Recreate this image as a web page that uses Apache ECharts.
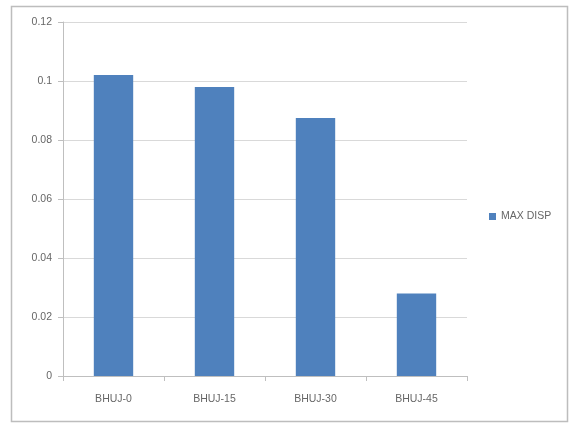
<!DOCTYPE html>
<html>
<head>
    <meta charset="utf-8">
    <title>MAX DISP</title>
    <script src="https://cdn.jsdelivr.net/npm/echarts@6/dist/echarts.min.js"></script>
</head>
<body style="margin:0;background:#fff;">
    <div id="main" style="width:569px;height:424px;"></div>
    <script type="text/javascript">
var categories = ['BHUJ-0', 'BHUJ-15', 'BHUJ-30', 'BHUJ-45'];
var maxDisp = [0.102, 0.098, 0.0875, 0.028];
var seriesName = 'MAX DISP';

var chart = echarts.init(document.getElementById('main'));
var font = 'Liberation Sans, Arial, sans-serif';

chart.setOption({
    animation: false,
    backgroundColor: '#fff',
    graphic: [{
        type: 'rect',
        shape: { x: 11.5, y: 6.5, width: 556, height: 415 },
        style: { fill: 'none', stroke: '#bdbdbd', lineWidth: 1.5 },
        silent: true
    }],
    grid: { left: 63, top: 22, right: 102, bottom: 48 },
    legend: {
        data: [seriesName],
        orient: 'vertical',
        left: 484,
        top: 206,
        itemWidth: 7,
        itemHeight: 7,
        itemGap: 4,
        icon: 'rect',
        textStyle: { color: '#666', fontSize: 10.5, fontFamily: font }
    },
    xAxis: {
        type: 'category',
        data: categories,
        axisLine: { lineStyle: { color: '#bfbfbf' } },
        axisTick: { show: true, length: 5, lineStyle: { color: '#bfbfbf' } },
        axisLabel: { color: '#666', fontSize: 10.5, fontFamily: font, margin: 18 }
    },
    yAxis: {
        type: 'value',
        min: 0,
        max: 0.12,
        interval: 0.02,
        axisLine: { show: true, lineStyle: { color: '#bfbfbf' } },
        axisTick: { show: true, length: 5, lineStyle: { color: '#bfbfbf' } },
        splitLine: { lineStyle: { color: '#d9d9d9' } },
        axisLabel: {
            color: '#666', fontSize: 10.5, fontFamily: font, margin: 11,
            formatter: function (v) { return String(Math.round(v * 100) / 100); }
        }
    },
    series: [{
        name: seriesName,
        type: 'bar',
        data: maxDisp,
        barWidth: '39%',
        itemStyle: { color: '#4f81bd' }
    }]
});
    </script>
</body>
</html>
